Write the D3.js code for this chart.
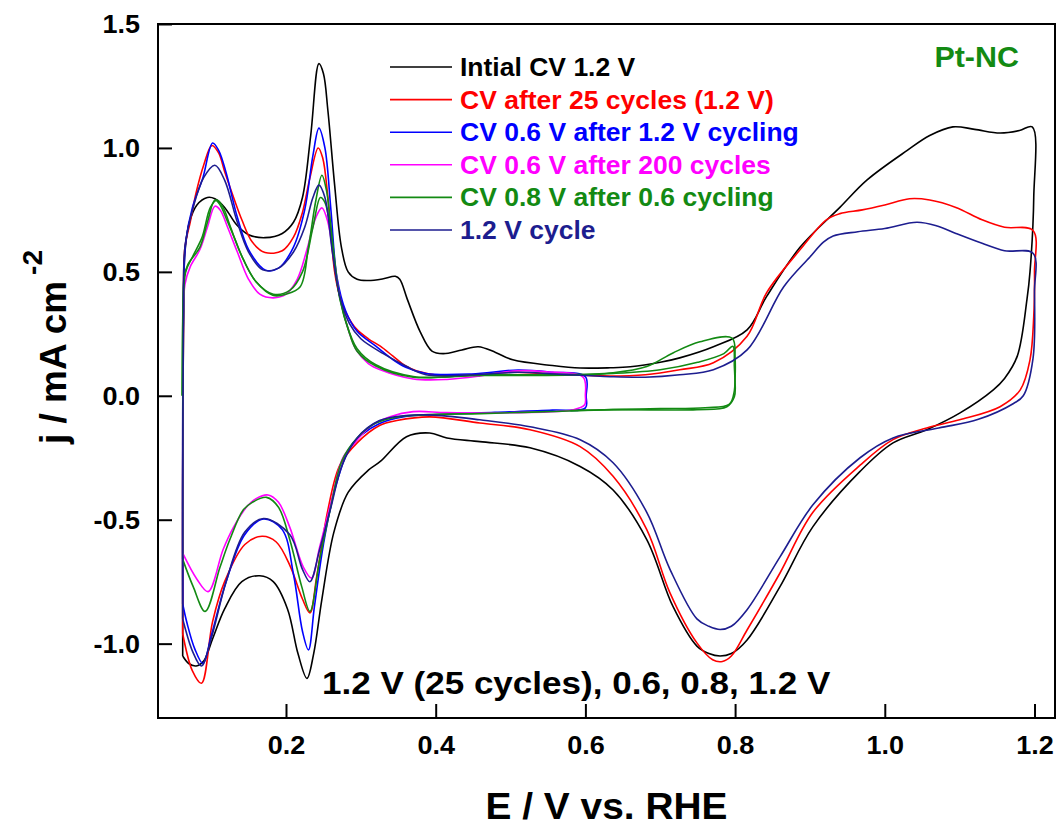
<!DOCTYPE html>
<html><head><meta charset="utf-8">
<script src="https://cdn.jsdelivr.net/npm/d3@7"></script>
<style>
html,body{margin:0;padding:0;background:#fff;}
svg text{font-family:"Liberation Sans",Arial,Helvetica,sans-serif;font-weight:bold;}
</style></head><body>
<svg id="chart" width="1061" height="826"></svg>
<script>
// ---------- data ----------
const xTickValues = [0.2, 0.4, 0.6, 0.8, 1.0, 1.2];
const yTickValues = [-1.0, -0.5, 0.0, 0.5, 1.0, 1.5];
const xTitle = "E / V vs. RHE";
const yTitleMain = "j / mA cm";
const yTitleSup = "-2";
const sampleLabel = "Pt-NC";
const noteLabel = "1.2 V (25 cycles), 0.6, 0.8, 1.2 V";
const legendLabels = [
  "Intial CV 1.2 V",
  "CV after 25 cycles (1.2 V)",
  "CV 0.6 V after 1.2 V cycling",
  "CV 0.6 V after 200 cycles",
  "CV 0.8 V after 0.6 cycling",
  "1.2 V cycle"
];

// [E (V vs RHE), j (mA cm^-2)]
const initialCV = [
[0.062,-1.05],[0.062,-0.5],[0.063,0.3],[0.065,0.58],[0.071,0.70],[0.081,0.77],[0.095,0.80],[0.105,0.795],[0.118,0.76],[0.134,0.69],[0.150,0.65],[0.172,0.638],[0.195,0.655],[0.210,0.70],[0.222,0.80],[0.233,1.05],[0.244,1.34],[0.250,1.30],[0.256,1.15],[0.265,0.85],[0.274,0.60],[0.283,0.50],[0.295,0.47],[0.310,0.465],[0.330,0.472],[0.346,0.482],[0.352,0.47],[0.362,0.39],[0.379,0.26],[0.395,0.18],[0.41,0.17],[0.435,0.185],[0.457,0.198],[0.48,0.175],[0.503,0.145],[0.556,0.122],[0.593,0.112],[0.633,0.113],[0.66,0.117],[0.70,0.135],[0.726,0.153],[0.771,0.198],[0.816,0.266],[0.842,0.40],[0.887,0.60],[0.94,0.76],[0.976,0.87],[1.03,0.99],[1.06,1.05],[1.091,1.085],[1.12,1.075],[1.154,1.06],[1.18,1.07],[1.197,1.085],
[1.199,0.80],[1.194,0.50],[1.19,0.39],[1.177,0.16],[1.16,0.07],[1.145,0.024],[1.10,-0.07],[1.056,-0.137],[1.011,-0.19],[0.967,-0.305],[0.904,-0.528],[0.86,-0.77],[0.816,-0.985],[0.795,-1.04],[0.78,-1.05],[0.765,-1.04],[0.749,-1.01],[0.717,-0.85],[0.682,-0.58],[0.637,-0.38],[0.593,-0.285],[0.526,-0.21],[0.459,-0.185],[0.415,-0.17],[0.392,-0.15],[0.361,-0.165],[0.326,-0.265],[0.31,-0.30],[0.283,-0.39],[0.264,-0.55],[0.248,-0.82],[0.237,-1.04],[0.228,-1.14],[0.216,-1.04],[0.202,-0.86],[0.183,-0.75],[0.165,-0.726],[0.141,-0.75],[0.118,-0.86],[0.102,-0.98],[0.09,-1.07],[0.08,-1.09],[0.07,-1.08],[0.062,-1.05]
];
const after25Cycles = [
[0.062,-0.96],[0.062,-0.4],[0.063,0.3],[0.065,0.6],[0.072,0.70],[0.08,0.82],[0.09,0.93],[0.101,1.01],[0.11,0.98],[0.118,0.905],[0.13,0.80],[0.141,0.71],[0.155,0.62],[0.172,0.578],[0.195,0.585],[0.21,0.64],[0.222,0.74],[0.232,0.88],[0.243,1.0],[0.249,0.96],[0.256,0.80],[0.265,0.50],[0.272,0.40],[0.281,0.33],[0.294,0.27],[0.31,0.23],[0.326,0.20],[0.343,0.16],[0.36,0.12],[0.375,0.10],[0.41,0.08],[0.46,0.085],[0.50,0.095],[0.556,0.088],[0.633,0.08],[0.68,0.085],[0.726,0.105],[0.771,0.133],[0.816,0.24],[0.842,0.415],[0.887,0.59],[0.922,0.71],[0.94,0.735],[0.97,0.75],[1.0,0.77],[1.033,0.795],[1.06,0.79],[1.095,0.76],[1.13,0.71],[1.16,0.68],[1.198,0.667],
[1.2,0.5],[1.199,0.32],[1.194,0.145],[1.181,0.024],[1.154,-0.044],[1.10,-0.097],[1.056,-0.13],[1.011,-0.177],[0.967,-0.28],[0.904,-0.47],[0.86,-0.715],[0.816,-0.945],[0.795,-1.05],[0.783,-1.072],[0.77,-1.065],[0.749,-0.997],[0.713,-0.795],[0.682,-0.54],[0.637,-0.325],[0.593,-0.205],[0.526,-0.137],[0.459,-0.11],[0.392,-0.085],[0.348,-0.10],[0.325,-0.12],[0.295,-0.19],[0.272,-0.28],[0.256,-0.46],[0.241,-0.73],[0.232,-0.876],[0.222,-0.82],[0.206,-0.69],[0.187,-0.59],[0.168,-0.567],[0.145,-0.60],[0.118,-0.75],[0.102,-0.91],[0.087,-1.16],[0.075,-1.11],[0.062,-0.96]
];
const cv06After12 = [
[0.062,-0.84],[0.062,-0.3],[0.063,0.35],[0.066,0.62],[0.075,0.76],[0.089,0.88],[0.102,1.02],[0.11,0.99],[0.12,0.90],[0.135,0.72],[0.15,0.59],[0.172,0.508],[0.19,0.515],[0.21,0.60],[0.225,0.75],[0.236,0.97],[0.244,1.08],[0.252,1.0],[0.26,0.75],[0.268,0.48],[0.28,0.34],[0.295,0.26],[0.32,0.20],[0.341,0.15],[0.36,0.115],[0.387,0.09],[0.448,0.088],[0.51,0.104],[0.556,0.095],[0.6,0.077],
[0.601,0.0],[0.6,-0.049],[0.556,-0.058],[0.479,-0.067],[0.402,-0.076],[0.356,-0.085],[0.325,-0.112],[0.30,-0.16],[0.285,-0.21],[0.265,-0.38],[0.25,-0.6],[0.238,-0.85],[0.23,-1.025],[0.222,-0.95],[0.21,-0.72],[0.195,-0.54],[0.17,-0.497],[0.145,-0.56],[0.12,-0.75],[0.10,-0.97],[0.089,-1.08],[0.078,-1.02],[0.068,-0.92],[0.062,-0.84]
];
const cv06After200 = [
[0.062,-0.635],[0.062,-0.2],[0.063,0.3],[0.065,0.45],[0.072,0.52],[0.085,0.59],[0.095,0.68],[0.105,0.765],[0.112,0.75],[0.122,0.68],[0.135,0.58],[0.15,0.47],[0.165,0.41],[0.183,0.395],[0.20,0.41],[0.215,0.47],[0.228,0.59],[0.24,0.72],[0.248,0.758],[0.256,0.70],[0.264,0.55],[0.272,0.40],[0.285,0.25],[0.295,0.18],[0.31,0.13],[0.326,0.105],[0.37,0.068],[0.415,0.066],[0.46,0.08],[0.503,0.1],[0.548,0.097],[0.597,0.075],
[0.6,0.0],[0.599,-0.036],[0.584,-0.056],[0.503,-0.068],[0.415,-0.068],[0.37,-0.064],[0.339,-0.085],[0.312,-0.125],[0.292,-0.19],[0.276,-0.25],[0.261,-0.42],[0.245,-0.61],[0.234,-0.735],[0.223,-0.69],[0.205,-0.53],[0.19,-0.43],[0.176,-0.40],[0.16,-0.415],[0.147,-0.45],[0.13,-0.53],[0.116,-0.62],[0.096,-0.79],[0.081,-0.74],[0.062,-0.635]
];
const cv08After06 = [
[0.061,0.0],[0.062,0.3],[0.064,0.48],[0.069,0.53],[0.085,0.60],[0.095,0.70],[0.105,0.79],[0.112,0.77],[0.121,0.71],[0.132,0.63],[0.143,0.55],[0.16,0.46],[0.183,0.405],[0.20,0.41],[0.219,0.44],[0.23,0.60],[0.240,0.79],[0.248,0.89],[0.254,0.83],[0.259,0.71],[0.266,0.52],[0.272,0.39],[0.285,0.25],[0.295,0.18],[0.32,0.12],[0.37,0.075],[0.46,0.085],[0.548,0.085],[0.637,0.093],[0.682,0.118],[0.717,0.173],[0.753,0.218],[0.796,0.233],
[0.80,0.15],[0.80,0.065],[0.799,-0.004],[0.789,-0.044],[0.749,-0.056],[0.637,-0.056],[0.548,-0.064],[0.46,-0.072],[0.40,-0.075],[0.35,-0.085],[0.32,-0.11],[0.295,-0.17],[0.275,-0.26],[0.259,-0.46],[0.245,-0.66],[0.232,-0.87],[0.221,-0.77],[0.205,-0.58],[0.19,-0.45],[0.174,-0.41],[0.155,-0.43],[0.143,-0.46],[0.125,-0.58],[0.112,-0.69],[0.092,-0.87],[0.076,-0.77],[0.062,-0.66]
];
const cv08After06Second = [
[0.062,-0.66],[0.062,-0.2],[0.063,0.3],[0.066,0.50],[0.075,0.56],[0.088,0.64],[0.099,0.76],[0.108,0.79],[0.116,0.76],[0.126,0.68],[0.14,0.57],[0.16,0.46],[0.183,0.41],[0.205,0.425],[0.222,0.50],[0.236,0.68],[0.246,0.80],[0.252,0.78],[0.26,0.66],[0.268,0.46],[0.28,0.30],[0.295,0.19],[0.32,0.125],[0.37,0.078],[0.46,0.082],[0.548,0.082],[0.637,0.09],[0.70,0.105],[0.75,0.135],[0.785,0.17],[0.797,0.20],
[0.799,0.12],[0.799,0.02],[0.792,-0.035],[0.76,-0.048],[0.70,-0.052],[0.637,-0.056],[0.58,-0.06]
];
const cycle12V = [
[0.062,-0.90],[0.062,-0.4],[0.063,0.3],[0.065,0.6],[0.076,0.76],[0.09,0.88],[0.105,0.93],[0.118,0.87],[0.135,0.70],[0.15,0.58],[0.169,0.508],[0.19,0.515],[0.21,0.58],[0.225,0.68],[0.236,0.80],[0.244,0.85],[0.252,0.80],[0.262,0.58],[0.272,0.40],[0.285,0.29],[0.30,0.23],[0.33,0.17],[0.36,0.12],[0.387,0.085],[0.45,0.085],[0.51,0.095],[0.56,0.088],[0.633,0.077],[0.68,0.075],[0.726,0.085],[0.771,0.105],[0.816,0.185],[0.865,0.44],[0.90,0.56],[0.918,0.62],[0.931,0.645],[0.964,0.662],[1.0,0.675],[1.043,0.70],[1.07,0.685],[1.095,0.655],[1.13,0.615],[1.16,0.585],[1.198,0.575],
[1.2,0.42],[1.198,0.15],[1.185,0.0],[1.172,-0.031],[1.125,-0.095],[1.072,-0.13],[1.011,-0.17],[0.967,-0.25],[0.904,-0.44],[0.86,-0.65],[0.816,-0.863],[0.795,-0.93],[0.78,-0.943],[0.765,-0.93],[0.749,-0.90],[0.713,-0.70],[0.682,-0.47],[0.637,-0.27],[0.593,-0.177],[0.526,-0.125],[0.459,-0.097],[0.392,-0.077],[0.36,-0.08],[0.325,-0.10],[0.295,-0.17],[0.275,-0.28],[0.26,-0.45],[0.245,-0.62],[0.232,-0.75],[0.222,-0.70],[0.205,-0.56],[0.17,-0.495],[0.145,-0.55],[0.12,-0.75],[0.10,-0.98],[0.087,-1.09],[0.075,-1.03],[0.062,-0.90]
];

// ---------- styles / layout ----------
const colors = ["#000000","#ff0000","#0000ff","#ff00ff","#138a13","#1d1d8f"];
const traces = [
  {data: initialCV, c: 0},
  {data: after25Cycles, c: 1},
  {data: cv06After12, c: 2},
  {data: cv06After200, c: 3},
  {data: cv08After06, c: 4},
  {data: cv08After06Second, c: 4},
  {data: cycle12V, c: 5}
];

const svg = d3.select("#chart");
const L = 158, R = 1055, T = 24, B = 718;
const x = d3.scaleLinear().domain([0.029, 1.2274]).range([L, R]);
const y = d3.scaleLinear().domain([-1.3, 1.5]).range([B, T]);

function stretch(sel, k) {
  sel.each(function () {
    const w = this.getComputedTextLength();
    this.setAttribute("textLength", w * k);
    this.setAttribute("lengthAdjust", "spacingAndGlyphs");
  });
}

svg.append("clipPath").attr("id", "clip").append("rect")
  .attr("x", L).attr("y", T).attr("width", R - L).attr("height", B - T);

const line = d3.line().x(d => x(d[0])).y(d => y(d[1]))
  .curve(d3.curveCatmullRom.alpha(0.5));

svg.append("g").attr("clip-path", "url(#clip)")
  .selectAll("path").data(traces).join("path")
  .attr("d", d => line(d.data))
  .attr("fill", "none")
  .attr("stroke", d => colors[d.c])
  .attr("stroke-width", 1.6)
  .attr("stroke-linejoin", "round");

// axes
const xAxis = d3.axisBottom(x).tickValues(xTickValues).tickFormat(d => d.toFixed(1))
  .tickSizeInner(-14).tickSizeOuter(0).tickPadding(18);
const gx = svg.append("g").attr("transform", `translate(0,${B})`).call(xAxis);
const yAxis = d3.axisLeft(y).tickValues(yTickValues).tickFormat(d => d.toFixed(1))
  .tickSizeInner(-14).tickSizeOuter(0).tickPadding(18);
const gy = svg.append("g").attr("transform", `translate(${L},0)`).call(yAxis);
[gx, gy].forEach(g => {
  g.select(".domain").remove();
  g.selectAll(".tick line").attr("stroke", "#000").attr("stroke-width", 2);
  g.selectAll(".tick text").attr("fill", "#000").style("font-size", "25px")
    .style("font-family", "'Liberation Sans', Arial, sans-serif").style("font-weight", "bold");
});
gy.selectAll(".tick text").attr("dy", "0.35em");
stretch(gx.selectAll(".tick text"), 1.08);
stretch(gy.selectAll(".tick text"), 1.08);

svg.append("rect").attr("x", L).attr("y", T).attr("width", R - L).attr("height", B - T)
  .attr("fill", "none").attr("stroke", "#000").attr("stroke-width", 2);

// axis titles
const xt = svg.append("text").attr("x", (L + R) / 2).attr("y", 819)
  .attr("text-anchor", "middle").style("font-size", "37px").attr("fill", "#000").text(xTitle);
stretch(xt, 1.05);

const yt = svg.append("text").attr("transform", "translate(66,444) rotate(-90)")
  .attr("text-anchor", "start").style("font-size", "37px").attr("fill", "#000");
yt.append("tspan").text(yTitleMain);
yt.append("tspan").attr("dx", 6).attr("dy", -24).style("font-size", "28px").text(yTitleSup);

// legend
const lx0 = 390, lx1 = 452, ltx = 460, ly0 = 67, ldy = 32.6;
const leg = svg.append("g");
legendLabels.forEach((lab, i) => {
  const yy = ly0 + i * ldy;
  leg.append("line").attr("x1", lx0).attr("x2", lx1).attr("y1", yy).attr("y2", yy)
    .attr("stroke", colors[i]).attr("stroke-width", 1.6);
  const t = leg.append("text").attr("x", ltx).attr("y", yy + 9)
    .style("font-size", "25px").attr("fill", colors[i]).text(lab);
  stretch(t, 1.06);
});

// annotations
const pt = svg.append("text").attr("x", 1019).attr("y", 67).attr("text-anchor", "end")
  .style("font-size", "29px").attr("fill", "#138a13").text(sampleLabel);
stretch(pt, 1.05);
const nt = svg.append("text").attr("x", 322).attr("y", 694).style("font-size", "31px")
  .attr("fill", "#000").text(noteLabel);
stretch(nt, 1.13);
</script>
</body></html>
